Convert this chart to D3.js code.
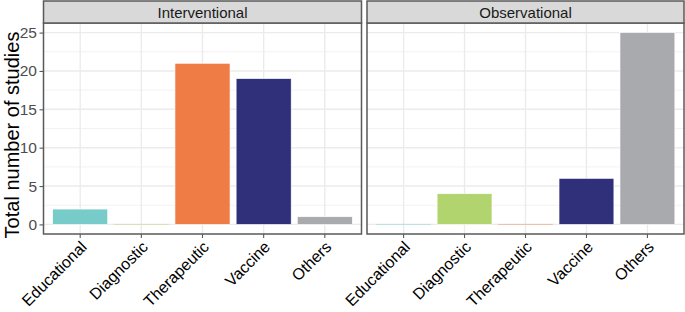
<!DOCTYPE html>
<html>
<head>
<meta charset="utf-8">
<script src="https://cdn.jsdelivr.net/npm/d3@7"></script>
<style>
  body { margin: 0; background: #fff; }
  text { font-family: "Liberation Sans", Arial, sans-serif; }
</style>
</head>
<body>
<div id="chart"></div>
<script>
// chart data
let panels = ["Interventional", "Observational"]
let categories = ["Educational", "Diagnostic", "Therapeutic", "Vaccine", "Others"]
let interventionalValues = [2, 0, 21, 19, 1]
let observationalValues = [0, 4, 0, 6, 25]
let yTicks = [0, 5, 10, 15, 20, 25]
let yTitle = "Total number of studies"
let catColors = ["#77cbc9", "#b1d46f", "#ef7b45", "#2f3079", "#a9aaad"]

let seriesValues = [interventionalValues, observationalValues]

let width = 685, height = 312
let panelX = [[43.5, 361.5], [367, 684]]
let stripTop = 1, stripBottom = 23, plotBottom = 234

let svg = d3.select("#chart").append("svg")
    .attr("width", width)
    .attr("height", height)

let y = d3.scaleLinear().domain([-1.25, 26.25]).range([plotBottom, stripBottom])

panels.forEach((name, pi) => {
    let [x0, x1] = panelX[pi]
    let g = svg.append("g").attr("class", "panel")

    // band scale, ggplot style: 0.6 units of expansion each side, bar width 0.9
    let x = d3.scaleBand().domain(categories).range([x0, x1]).paddingInner(0.1).paddingOuter(0.15)

    // background + grid
    g.append("rect").attr("x", x0).attr("y", stripBottom).attr("width", x1 - x0).attr("height", plotBottom - stripBottom).attr("fill", "#fff")

    let minor = d3.range(2.5, 26, 5)
    g.selectAll(".minor").data(minor).enter().append("line")
        .attr("x1", x0).attr("x2", x1)
        .attr("y1", d => y(d)).attr("y2", d => y(d))
        .attr("stroke", "#f2f2f2").attr("stroke-width", 1)
    g.selectAll(".major").data(yTicks).enter().append("line")
        .attr("x1", x0).attr("x2", x1)
        .attr("y1", d => y(d)).attr("y2", d => y(d))
        .attr("stroke", "#ebebeb").attr("stroke-width", 1.4)
    g.selectAll(".vgrid").data(categories).enter().append("line")
        .attr("x1", d => x(d) + x.bandwidth() / 2).attr("x2", d => x(d) + x.bandwidth() / 2)
        .attr("y1", stripBottom).attr("y2", plotBottom)
        .attr("stroke", "#ebebeb").attr("stroke-width", 1.4)

    // bars (zero values leave a faint line at the baseline)
    g.selectAll(".bar").data(categories).enter().append("rect")
        .attr("x", d => x(d))
        .attr("width", x.bandwidth())
        .attr("y", (d, i) => seriesValues[pi][i] === 0 ? y(0) - 0.5 : y(seriesValues[pi][i]))
        .attr("height", (d, i) => Math.max(1, y(0) - y(seriesValues[pi][i])))
        .attr("fill", (d, i) => catColors[i])
        .attr("stroke", (d, i) => seriesValues[pi][i] === 0 ? "none" : "#fff").attr("stroke-width", 0.6)
        .attr("opacity", (d, i) => seriesValues[pi][i] === 0 ? 0.4 : 1)

    // panel border
    g.append("rect").attr("x", x0).attr("y", stripBottom).attr("width", x1 - x0).attr("height", plotBottom - stripBottom)
        .attr("fill", "none").attr("stroke", "#5a5a5a").attr("stroke-width", 1.5)

    // strip
    g.append("rect").attr("x", x0).attr("y", stripTop).attr("width", x1 - x0).attr("height", stripBottom - stripTop)
        .attr("fill", "#d9d9d9").attr("stroke", "#5a5a5a").attr("stroke-width", 1.5)
    g.append("text").attr("x", (x0 + x1) / 2).attr("y", (stripTop + stripBottom) / 2 + 5.5)
        .attr("text-anchor", "middle").attr("font-size", 15).attr("fill", "#1a1a1a").text(name)

    // x axis
    let xAxis = d3.axisBottom(x).tickSize(4).tickPadding(4)
    let xg = g.append("g").attr("transform", `translate(0,${plotBottom})`).call(xAxis)
    xg.select(".domain").remove()
    xg.selectAll(".tick line").attr("stroke", "#5a5a5a").attr("stroke-width", 1.1)
    xg.selectAll(".tick text")
        .attr("font-size", 16).attr("fill", "#000")
        .attr("text-anchor", "end")
        .attr("dy", null).attr("y", 0)
        .attr("transform", "translate(7.5,14) rotate(-45)")

    if (pi === 0) {
        let yAxis = d3.axisLeft(y).tickValues(yTicks).tickSize(4).tickPadding(2.5)
        let yg = g.append("g").attr("transform", `translate(${x0},0)`).call(yAxis)
        yg.select(".domain").remove()
        yg.selectAll(".tick line").attr("stroke", "#5a5a5a").attr("stroke-width", 1.1)
        yg.selectAll(".tick text").attr("font-size", 15.5).attr("fill", "#4d4d4d")
    }
})

// y title
svg.append("text")
    .attr("transform", "translate(18.5,135) rotate(-90)")
    .attr("text-anchor", "middle")
    .attr("font-size", 20)
    .attr("fill", "#000")
    .text(yTitle)
</script>
</body>
</html>
